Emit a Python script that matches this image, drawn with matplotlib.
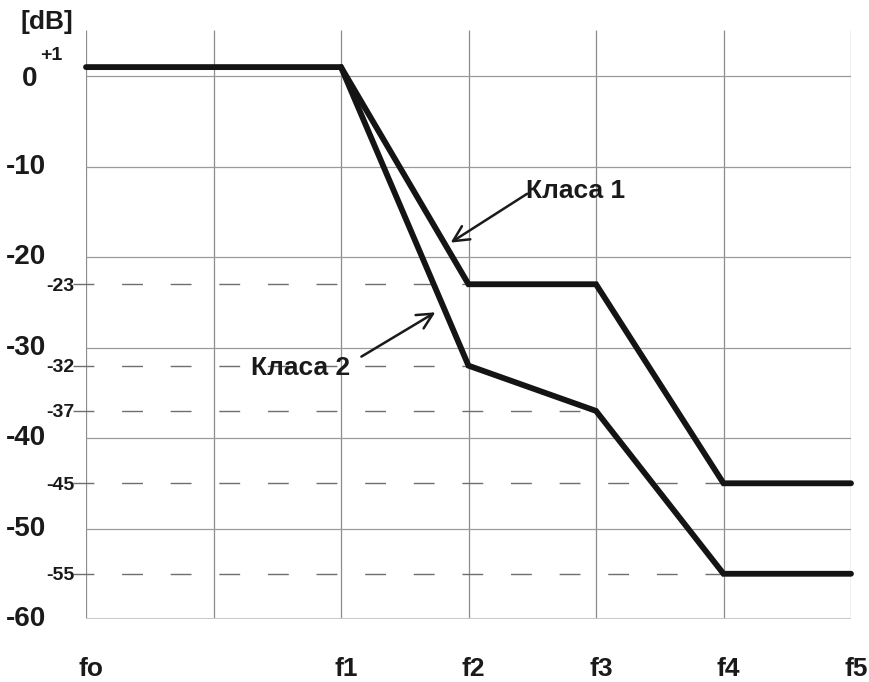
import matplotlib
matplotlib.use("Agg")
import matplotlib.pyplot as plt

plt.rcParams["font.family"] = ["Liberation Sans", "DejaVu Sans"]

# frequency grid positions (fo .. f5), index 1 is an unlabeled line
freq_labels = ["fo", "", "f1", "f2", "f3", "f4", "f5"]
grid_db = [0, -10, -20, -30, -40, -50, -60]

klasa1_x = [0, 2, 3, 4, 5, 6]
klasa1_db = [1, 1, -23, -23, -45, -45]
klasa2_x = [2, 3, 4, 5, 6]
klasa2_db = [1, -32, -37, -55, -55]

# reference levels (dashed) and the frequency index where the curve reaches them
ref_db = [-23, -32, -37, -45, -55]
ref_end = [3, 3, 4, 5, 5]

INK = "#1a1a1a"

fig = plt.figure(figsize=(8.69, 6.82), dpi=100)
ax = fig.add_axes([86 / 869, 63 / 682, 765 / 869, 589 / 682])
ax.set_xlim(0, 6)
ax.set_ylim(-60, 5.1)
ax.axis("off")

xs = list(range(len(freq_labels)))
ax.vlines(xs, -60, 5.1, color="#8c8c8c", lw=0.9, zorder=1)
ax.hlines(grid_db[:-1], 0, 6, color="#9a9a9a", lw=0.9, zorder=1)
ax.hlines(-60, 0, 6, color="#c8c8c8", lw=1.4, zorder=1)

for level, end in zip(ref_db, ref_end):
    ax.plot([-0.1, end], [level, level], color="#6e6e6e", lw=1.0,
            dashes=(15, 20), zorder=2, clip_on=False)
    ax.text(-0.09, level - 0.2, str(level), ha="right", va="center",
            fontsize=14, fontweight="bold", color=INK, clip_on=False)

ax.plot(klasa1_x, klasa1_db, color="#141414", lw=4.2, solid_capstyle="round",
        solid_joinstyle="miter", zorder=4, clip_on=False)
ax.plot(klasa2_x, klasa2_db, color="#141414", lw=4.2, solid_capstyle="round",
        solid_joinstyle="miter", zorder=4, clip_on=False)

for level in grid_db:
    if level == 0:
        ax.text(-0.44, level - 0.3, "0", ha="center", va="center",
                fontsize=20, fontweight="bold", color=INK)
    else:
        ax.text(-0.31, level, str(level), ha="right", va="center",
                fontsize=20, fontweight="bold", color=INK)
ax.text(-0.27, 2.3, "+1", ha="center", va="center", fontsize=14,
        fontweight="bold", color=INK)
ax.text(-0.31, 6.0, "[dB]", ha="center", va="center", fontsize=19,
        fontweight="bold", color=INK)

for x, lab in zip(xs, freq_labels):
    if lab:
        ax.text(x + 0.04, -65.5, lab, ha="center", va="center", fontsize=19,
                fontweight="bold", color=INK)

ax.text(3.84, -12.7, "Класа 1", ha="center", va="center", fontsize=19,
        fontweight="bold", color=INK)
ax.annotate("", xy=(2.86, -18.4), xytext=(3.46, -13.0),
            arrowprops=dict(arrowstyle="->", color=INK, lw=1.8,
                            mutation_scale=28, shrinkA=0, shrinkB=0))
ax.text(1.68, -32.3, "Класа 2", ha="center", va="center", fontsize=19,
        fontweight="bold", color=INK)
ax.annotate("", xy=(2.74, -26.1), xytext=(2.16, -31.0),
            arrowprops=dict(arrowstyle="->", color=INK, lw=1.8,
                            mutation_scale=28, shrinkA=0, shrinkB=0))

fig.savefig("out.png", dpi=100)
